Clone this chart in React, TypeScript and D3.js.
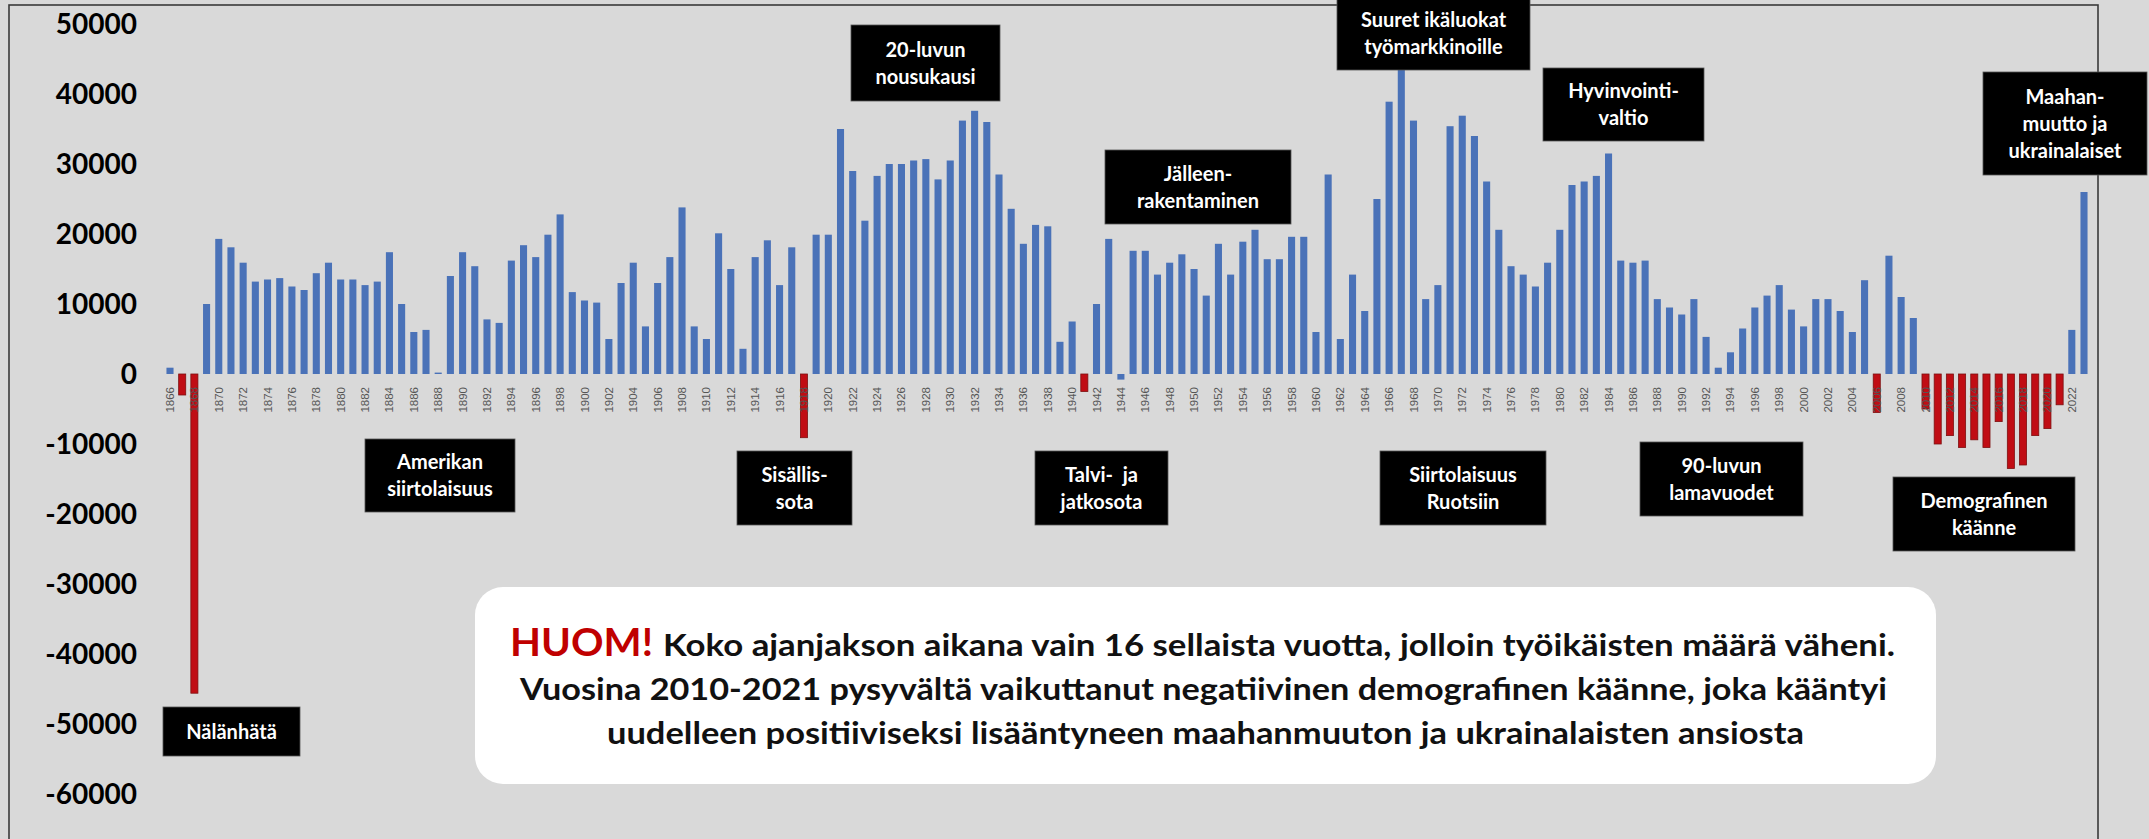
import React from "react";
import * as d3 from "d3";

// Työikäisten määrän vuosimuutos 1866-2023
const firstYear = 1866;
const lastYear = 2023;
const changes = [
  900, -3000, -45600, 10000, 19300, 18100, 15900, 13200, 13500, 13700, // 1866-1875
  12500, 12000, 14400, 15900, 13500, 13500, 12700, 13200, 17400, 10000, // 1876-1885
  6000, 6300, 200, 14000, 17400, 15400, 7800, 7300, 16200, 18400, // 1886-1895
  16700, 19900, 22800, 11700, 10500, 10200, 5000, 13000, 15900, 6800, // 1896-1905
  13000, 16700, 23800, 6800, 5000, 20100, 15000, 3600, 16700, 19100, // 1906-1915
  12700, 18100, -9100, 19900, 19900, 35000, 29000, 21900, 28300, 30000, // 1916-1925
  30000, 30500, 30700, 27800, 30500, 36200, 37600, 36000, 28500, 23600, // 1926-1935
  18600, 21300, 21100, 4600, 7500, -2500, 10000, 19300, -800, 17600, // 1936-1945
  17600, 14200, 15900, 17100, 15000, 11200, 18600, 14200, 18900, 20600, // 1946-1955
  16400, 16400, 19600, 19600, 6000, 28500, 5000, 14200, 9000, 25000, // 1956-1965
  38900, 44500, 36200, 10700, 12700, 35400, 36900, 34000, 27500, 20600, // 1966-1975
  15400, 14200, 12500, 15900, 20600, 27000, 27500, 28300, 31500, 16200, // 1976-1985
  15900, 16200, 10700, 9500, 8500, 10700, 5300, 900, 3100, 6500, // 1986-1995
  9500, 11200, 12700, 9200, 6800, 10700, 10700, 9000, 6000, 13400, // 1996-2005
  -5500, 16900, 11000, 8000, -5000, -10000, -8800, -10500, -9400, -10500, // 2006-2015
  -6800, -13500, -13000, -8800, -7800, -4400, 6300, 26000, // 2016-2023
];
// punaisella korostetut vuodet
const declineYears = [1867, 1868, 1918, 1941, 2006, 2010, 2011, 2012, 2013, 2014, 2015, 2016, 2017, 2018, 2019, 2020, 2021];
const yTicks = [50000, 40000, 30000, 20000, 10000, 0, -10000, -20000, -30000, -40000, -50000, -60000];

// Selitelaatikot (kuvan koordinaateissa)
const notes = [
  { lines: ["Nälänhätä"], x0: 163, y0: 707, x1: 300, y1: 756 },
  { lines: ["Amerikan", "siirtolaisuus"], x0: 365, y0: 439, x1: 515, y1: 512 },
  { lines: ["Sisällis-", "sota"], x0: 737, y0: 451, x1: 852, y1: 525 },
  { lines: ["20-luvun", "nousukausi"], x0: 851, y0: 25, x1: 1000, y1: 101 },
  { lines: ["Talvi-  ja", "jatkosota"], x0: 1035, y0: 451, x1: 1168, y1: 525 },
  { lines: ["Jälleen-", "rakentaminen"], x0: 1105, y0: 150, x1: 1291, y1: 224 },
  { lines: ["Suuret ikäluokat", "työmarkkinoille"], x0: 1337, y0: -4, x1: 1530, y1: 70 },
  { lines: ["Hyvinvointi-", "valtio"], x0: 1543, y0: 68, x1: 1704, y1: 141 },
  { lines: ["Siirtolaisuus", "Ruotsiin"], x0: 1380, y0: 451, x1: 1546, y1: 525 },
  { lines: ["90-luvun", "lamavuodet"], x0: 1640, y0: 442, x1: 1803, y1: 516 },
  { lines: ["Demografinen", "käänne"], x0: 1893, y0: 477, x1: 2075, y1: 551 },
  { lines: ["Maahan-", "muutto ja", "ukrainalaiset"], x0: 1983, y0: 72, x1: 2147, y1: 175 },
];

const W = 2149;
const H = 839;
const FONT = "Lato, 'Open Sans', sans-serif";

export default function App() {
  const years = d3.range(firstYear, lastYear + 1);
  const data = years.map((yr, i) => ({ year: yr, value: changes[i] }));

  // 1866 keskellä x=170, 2023 keskellä x=2084
  const step = (2084 - 170) / (years.length - 1);
  const x = d3.scaleBand<number>()
    .domain(years)
    .range([170 - step / 2, 2084 + step / 2])
    .paddingInner(0.42)
    .paddingOuter(0.21);

  const y = d3.scaleLinear().domain([-60000, 50000]).range([794, 24]);

  return (
    <svg width={W} height={H} style={{ position: "fixed", left: 0, top: 0, display: "block" }}>
      <rect x={0} y={0} width={W} height={H} fill="#d9d9d9" />
      <rect x={9} y={5} width={2089} height={H + 10} fill="none" stroke="#3a3a3a" strokeWidth={1.6} />

      {/* Pylväät */}
      {data.map(d => {
        const red = declineYears.includes(d.year);
        const top = y(Math.max(0, d.value));
        const h = Math.abs(y(d.value) - y(0));
        return (
          <rect
            key={d.year}
            x={x(d.year)}
            y={top}
            width={x.bandwidth()}
            height={Math.max(h, 1)}
            fill={red ? "#c00d14" : "#4a72b8"}
            stroke={red ? "#7d1010" : "none"}
            strokeWidth={red ? 0.8 : 0}
          />
        );
      })}

      {/* Vuosiakseli */}
      {years.filter(yr => (yr - firstYear) % 2 === 0).map(yr => (
        <text
          key={yr}
          transform={`translate(${(x(yr) ?? 0) + x.bandwidth() / 2},387) rotate(-90)`}
          textAnchor="end"
          dy="0.35em"
          fill="#555"
          style={{ fontFamily: "'Liberation Sans', Arial, sans-serif", fontSize: "11.5px" }}
        >
          {yr}
        </text>
      ))}

      {/* Y-akseli */}
      {yTicks.map(t => (
        <text
          key={t}
          x={137}
          y={y(t)}
          dy="0.36em"
          textAnchor="end"
          fill="#000"
          style={{ fontFamily: FONT, fontWeight: 700, fontSize: "28px" }}
        >
          {t}
        </text>
      ))}

      {/* Selitteet */}
      {notes.map((n, i) => {
        const cx = (n.x0 + n.x1) / 2;
        const cy = (n.y0 + n.y1) / 2;
        const lh = 27;
        return (
          <g key={i}>
            <rect x={n.x0} y={n.y0} width={n.x1 - n.x0} height={n.y1 - n.y0} fill="#000" stroke="#555" strokeWidth={0.8} />
            {n.lines.map((l, j) => (
              <text
                key={j}
                x={cx}
                y={cy + (j - (n.lines.length - 1) / 2) * lh}
                dy="0.35em"
                textAnchor="middle"
                fill="#fff"
                style={{ fontFamily: FONT, fontWeight: 700, fontSize: "20px", whiteSpace: "pre" }}
              >
                {l}
              </text>
            ))}
          </g>
        );
      })}

      {/* HUOM-laatikko */}
      <rect x={475} y={587} width={1461} height={197} rx={28} fill="#fff" />
      <text x={510} y={656} textLength={143} lengthAdjust="spacingAndGlyphs" fill="#c00000"
        style={{ fontFamily: FONT, fontWeight: 700, fontSize: "39px" }}>HUOM!</text>
      <text x={663} y={656} textLength={1232} lengthAdjust="spacingAndGlyphs" fill="#111"
        style={{ fontFamily: FONT, fontWeight: 700, fontSize: "30px" }}>
        Koko ajanjakson aikana vain 16 sellaista vuotta, jolloin työikäisten määrä väheni.
      </text>
      <text x={520} y={700} textLength={1367} lengthAdjust="spacingAndGlyphs" fill="#111"
        style={{ fontFamily: FONT, fontWeight: 700, fontSize: "30px" }}>
        Vuosina 2010-2021 pysyvältä vaikuttanut negatiivinen demografinen käänne, joka kääntyi
      </text>
      <text x={607} y={744} textLength={1197} lengthAdjust="spacingAndGlyphs" fill="#111"
        style={{ fontFamily: FONT, fontWeight: 700, fontSize: "30px" }}>
        uudelleen positiiviseksi lisääntyneen maahanmuuton ja ukrainalaisten ansiosta
      </text>
    </svg>
  );
}
